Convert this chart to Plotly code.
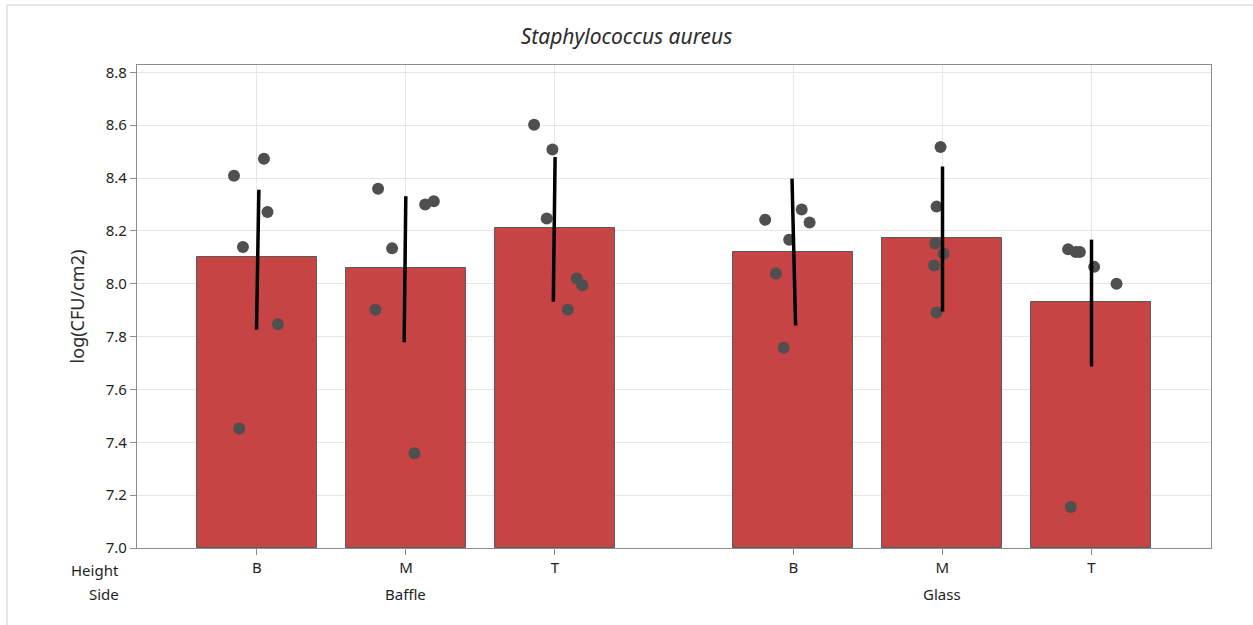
import plotly.graph_objects as go

# ---- data ----
sides = ["Baffle", "Glass"]
heights = ["B", "M", "T"]
means = [8.100, 8.059, 8.213, 8.119, 8.173, 7.932]
err_low = [7.826, 7.779, 7.932, 7.842, 7.895, 7.687]
err_high = [8.356, 8.331, 8.480, 8.398, 8.444, 8.167]
err_low_dx = [-0.003, -0.012, -0.011, 0.015, 0.001, 0.001]
err_high_dx = [0.013, -0.001, 0.001, -0.009, 0.001, 0.001]
obs_values = [
    [8.409, 8.473, 8.272, 8.139, 7.847, 7.452],
    [8.360, 8.312, 8.300, 8.134, 7.902, 7.359],
    [8.602, 8.508, 8.247, 8.020, 7.994, 7.902],
    [8.242, 8.281, 8.232, 8.167, 8.039, 7.758],
    [8.518, 8.292, 8.152, 8.114, 8.069, 7.891],
    [8.131, 8.120, 8.120, 8.064, 8.000, 7.155],
]
obs_jitter = [
    [-0.154, 0.047, 0.071, -0.094, 0.141, -0.119],
    [-0.187, 0.187, 0.129, -0.093, -0.205, 0.057],
    [-0.140, -0.017, -0.055, 0.146, 0.184, 0.086],
    [-0.189, 0.056, 0.109, -0.028, -0.117, -0.065],
    [-0.012, -0.039, -0.048, 0.008, -0.055, -0.039],
    [-0.156, -0.104, -0.077, 0.019, 0.169, -0.138],
]
y_ticks = [7.0, 7.2, 7.4, 7.6, 7.8, 8.0, 8.2, 8.4, 8.6, 8.8]

# ---- layout helpers ----
GROUP_GAP = 0.6
pos = []
labels = []
for gi, s in enumerate(sides):
    for hi, h in enumerate(heights):
        pos.append(gi * (len(heights) + GROUP_GAP) + hi)
        labels.append(h)

FONT = "Noto Sans"
TXT = "#1E1E1E"

fig = go.Figure()
fig.add_trace(go.Bar(
    x=pos, y=[m - 7.0 for m in means], base=7.0, width=0.805,
    marker=dict(color="#C64444", line=dict(color="#5A5A5A", width=1)),
    hoverinfo="skip", showlegend=False,
))

px_, py_ = [], []
for i, p in enumerate(pos):
    for v, j in zip(obs_values[i], obs_jitter[i]):
        px_.append(p + j)
        py_.append(v)
fig.add_trace(go.Scatter(
    x=px_, y=py_, mode="markers",
    marker=dict(color="#4F4F4F", size=12, line=dict(width=0)),
    showlegend=False, hoverinfo="skip",
))

ex, ey = [], []
for i, p in enumerate(pos):
    ex += [p + err_low_dx[i], p + err_high_dx[i], None]
    ey += [err_low[i], err_high[i], None]
fig.add_trace(go.Scatter(
    x=ex, y=ey, mode="lines", line=dict(color="black", width=3.5),
    showlegend=False, hoverinfo="skip",
))

fig.update_layout(
    width=1253, height=625,
    margin=dict(l=137, r=42, t=65, b=77),
    paper_bgcolor="white", plot_bgcolor="white",
    font=dict(family=FONT, color=TXT, size=15),
    title=dict(text="<i>Staphylococcus aureus</i>", x=0.5, xref="container",
               y=1 - 37 / 625, yref="container", yanchor="middle", xanchor="center",
               font=dict(family=FONT, size=21, color="#2B2B2B")),
    bargap=0,
)
fig.update_xaxes(
    range=[-0.805, 6.403], tickvals=pos, ticktext=labels,
    showgrid=True, gridcolor="#E6E6E6", gridwidth=1,
    showline=True, linecolor="#8C8C8C", linewidth=1.2, mirror=True,
    ticks="outside", ticklen=6, tickcolor="#8C8C8C",
    tickfont=dict(size=15, color=TXT), zeroline=False,
)
fig.update_yaxes(
    range=[7.0, 8.828], tickvals=y_ticks, ticktext=[f"{v:.1f}" for v in y_ticks],
    showgrid=True, gridcolor="#E6E6E6", gridwidth=1,
    showline=True, linecolor="#8C8C8C", linewidth=1.2, mirror=True,
    ticks="outside", ticklen=6, tickcolor="#8C8C8C",
    tickfont=dict(size=15, color=TXT), zeroline=False,
    title=dict(text="log(CFU/cm2)", font=dict(size=18, color="#2B2B2B"), standoff=16),
)

# side labels under the middle category of each group
for gi, s in enumerate(sides):
    mid = pos[gi * len(heights) + 1]
    fig.add_annotation(x=mid, xref="x", y=-(594 - 548) / 483, yref="paper",
                       text=s, showarrow=False, yanchor="middle",
                       font=dict(size=15, color=TXT))
fig.add_annotation(x=(121 - 137) / 1074, xref="paper", y=-(570 - 548) / 483, yref="paper",
                   text="Height", showarrow=False, xanchor="right", yanchor="middle",
                   font=dict(size=15, color=TXT))
fig.add_annotation(x=(121 - 137) / 1074, xref="paper", y=-(594 - 548) / 483, yref="paper",
                   text="Side", showarrow=False, xanchor="right", yanchor="middle",
                   font=dict(size=15, color=TXT))

# outer frame (top and left edges visible)
bx = (7 - 137) / 1074
by = (548 - 5) / 483
fig.add_shape(type="line", xref="paper", yref="paper", x0=bx, x1=1.1, y0=by, y1=by,
              line=dict(color="#DCDCDC", width=1.5))
fig.add_shape(type="line", xref="paper", yref="paper", x0=bx, x1=bx, y0=by, y1=-0.3,
              line=dict(color="#DCDCDC", width=1.5))

fig.write_html(
    "out.html",
    config={"displayModeBar": False},
    post_script="document.body.style.margin='0';document.body.style.overflow='hidden';",
)
